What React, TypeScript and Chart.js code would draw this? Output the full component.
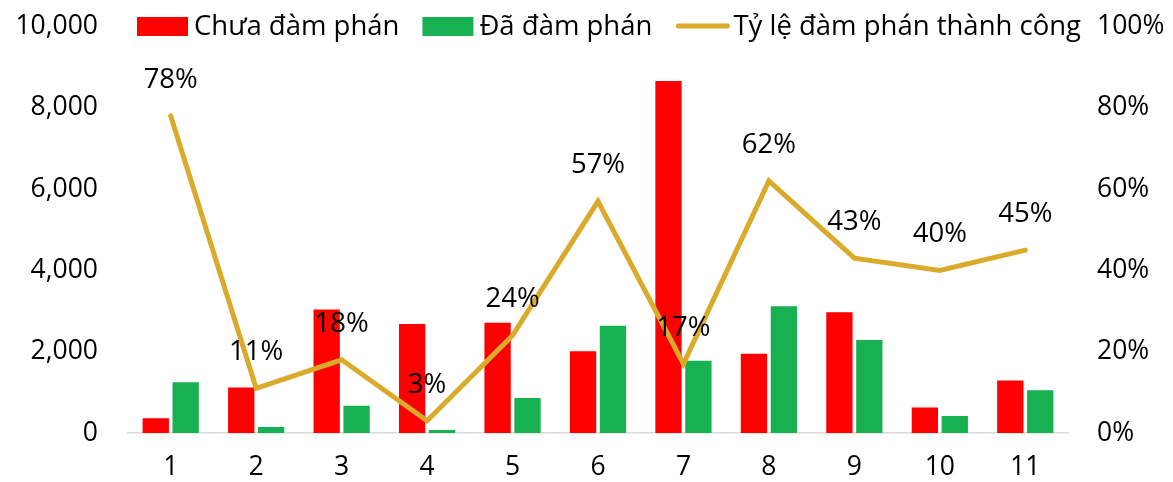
import React, { useEffect, useRef } from "react";
import { Chart, registerables } from "chart.js";

Chart.register(...registerables);

const categories = ["1", "2", "3", "4", "5", "6", "7", "8", "9", "10", "11"];
const notNegotiated = [360, 1120, 3040, 2680, 2710, 2010, 8660, 1950, 2970, 630, 1290];
const negotiated = [1250, 150, 670, 75, 860, 2640, 1780, 3120, 2290, 420, 1050];
const successRate = [78, 11, 18, 3, 24, 57, 17, 62, 43, 40, 45];

const seriesNames = ["Chưa đàm phán", "Đã đàm phán", "Tỷ lệ đàm phán thành công"];
const RED = "#FF0000";
const GREEN = "#17B152";
const GOLD = "#DAAA2B";
const FONT_FAMILY = "'Open Sans', 'Noto Sans', sans-serif";
const TICK_SIZE = 26.5;
const TEXT_SIZE = 27.5;

const pointLabelsPlugin = {
  id: "pointLabels",
  afterDatasetsDraw(chart: any) {
    const ctx = chart.ctx;
    const meta = chart.getDatasetMeta(2);
    const data = chart.data.datasets[2].data;
    ctx.save();
    ctx.font = `${TEXT_SIZE}px ${FONT_FAMILY}`;
    ctx.fillStyle = "#000";
    ctx.textAlign = "center";
    ctx.textBaseline = "middle";
    meta.data.forEach((pt: any, i: number) => {
      ctx.fillText(`${data[i]}%`, pt.x, pt.y - 36);
    });
    ctx.restore();
  },
};

const customLegendPlugin = {
  id: "customLegend",
  afterDraw(chart: any) {
    const ctx = chart.ctx;
    const yMid = 27;
    let x = 137;
    ctx.save();
    ctx.font = `${TEXT_SIZE}px ${FONT_FAMILY}`;
    ctx.textBaseline = "middle";
    ctx.textAlign = "left";
    chart.data.datasets.forEach((ds: any) => {
      if (ds.type === "line") {
        ctx.strokeStyle = ds.borderColor;
        ctx.lineWidth = 5;
        ctx.lineCap = "round";
        ctx.beginPath();
        ctx.moveTo(x + 3, yMid - 1);
        ctx.lineTo(x + 52, yMid - 1);
        ctx.stroke();
        x += 58;
      } else {
        ctx.fillStyle = ds.backgroundColor;
        ctx.fillRect(x, yMid - 10, 51, 19);
        x += 57;
      }
      ctx.fillStyle = "#000";
      ctx.fillText(ds.label, x, yMid);
      x += ctx.measureText(ds.label).width + 23;
    });
    ctx.restore();
  },
};

export default function App() {
  const canvasRef = useRef<HTMLCanvasElement | null>(null);

  useEffect(() => {
    document.body.style.margin = "0";
    const canvas = canvasRef.current;
    if (!canvas) return;
    const tickFont = { family: FONT_FAMILY, size: TICK_SIZE };
    const chart = new Chart(canvas, {
      type: "bar",
      data: {
        labels: categories,
        datasets: [
          {
            type: "bar",
            label: seriesNames[0],
            data: notNegotiated,
            backgroundColor: RED,
            yAxisID: "y",
            order: 2,
            barPercentage: 0.88,
            categoryPercentage: 0.7,
          },
          {
            type: "bar",
            label: seriesNames[1],
            data: negotiated,
            backgroundColor: GREEN,
            yAxisID: "y",
            order: 2,
            barPercentage: 0.88,
            categoryPercentage: 0.7,
          },
          {
            type: "line",
            label: seriesNames[2],
            data: successRate,
            borderColor: GOLD,
            backgroundColor: GOLD,
            borderWidth: 5,
            borderCapStyle: "round",
            borderJoinStyle: "miter",
            pointRadius: 0,
            tension: 0,
            yAxisID: "y1",
            order: 0,
          } as any,
        ],
      },
      options: {
        animation: false,
        responsive: true,
        maintainAspectRatio: false,
        layout: { padding: { top: 26.5, left: 0, right: 0, bottom: 0 } },
        plugins: {
          legend: { display: false },
          tooltip: { enabled: false },
        },
        scales: {
          x: {
            grid: { display: false, drawTicks: false },
            border: { display: true, color: "#D9D9D9", width: 1.5 },
            ticks: { color: "#000", font: tickFont, padding: 19, maxRotation: 0 },
            afterFit(scale: any) {
              scale.height = 49;
            },
          },
          y: {
            position: "left",
            min: 0,
            max: 10000,
            grid: { display: false, drawTicks: false },
            border: { display: false },
            ticks: {
              stepSize: 2000,
              color: "#000",
              font: tickFont,
              padding: 30,
              callback: (v: any) => Number(v).toLocaleString("en-US"),
            },
            afterFit(scale: any) {
              scale.width = 128;
              scale.paddingTop = 0;
              scale.paddingBottom = 0;
            },
          },
          y1: {
            position: "right",
            min: 0,
            max: 100,
            grid: { display: false, drawTicks: false },
            border: { display: false },
            ticks: {
              stepSize: 20,
              color: "#000",
              font: tickFont,
              padding: 29,
              callback: (v: any) => `${v}%`,
            },
            afterFit(scale: any) {
              scale.width = 105;
              scale.paddingTop = 0;
              scale.paddingBottom = 0;
            },
          },
        },
      },
      plugins: [pointLabelsPlugin, customLegendPlugin],
    });
    return () => chart.destroy();
  }, []);

  return (
    <div style={{ position: "relative", width: 1173, height: 482, background: "#fff" }}>
      <canvas ref={canvasRef} />
    </div>
  );
}
